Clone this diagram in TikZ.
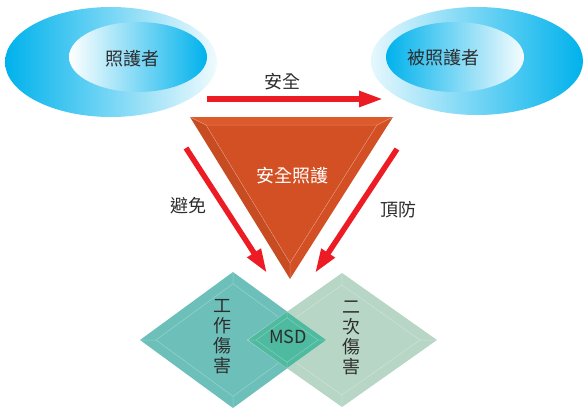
\documentclass[tikz,border=0pt]{standalone}
\usepackage{fontspec}
\newfontfamily\cjk{Noto Sans CJK TC}
\usetikzlibrary{arrows.meta,shapes.geometric}
\definecolor{himmel}{RGB}{0,178,236}
\definecolor{pfeilrot}{RGB}{237,28,36}
\definecolor{ziegel}{RGB}{210,80,36}
\definecolor{ziegelhell}{RGB}{221,90,42}
\definecolor{tuerkis}{RGB}{108,192,185}
\definecolor{salbei}{RGB}{184,214,197}
\definecolor{msdgruen}{RGB}{78,186,160}
\definecolor{schrift}{RGB}{45,45,45}
\begin{document}
\begin{tikzpicture}[x=1pt,y=-1pt,
    txt/.style={font=\cjk\fontsize{18}{20}\selectfont, text=schrift, inner sep=0pt},
    oval/.style={ellipse, inner sep=0pt},
    pfeil/.style={pfeilrot, line width=5.5pt, -{Triangle[length=24pt,width=15pt]}},
    kante/.style={white, opacity=.3, line width=.5pt}]
    \useasboundingbox (0,0) rectangle (584,410);
    % Ellipsen oben
    \node[oval, minimum width=212pt, minimum height=110pt, left color=himmel, middle color=himmel!88, right color=himmel!6] (pflegeaussen) at (111,62) {};
    \node[oval, minimum width=138pt, minimum height=70pt, left color=white, right color=himmel] (pflegeinnen) at (138,57) {};
    \node[txt] (pfleger) at (132,59) {照護者};
    \node[oval, minimum width=212pt, minimum height=108pt, left color=himmel!10, middle color=himmel!78, right color=himmel] (patientaussen) at (477,61) {};
    \node[oval, minimum width=138pt, minimum height=70pt, left color=himmel, right color=himmel!4] (patientinnen) at (455,57) {};
    \node[txt] (patient) at (443,58) {被照護者};
    % Dreieck
    \coordinate (tA) at (190,117); \coordinate (tB) at (393,117); \coordinate (tC) at (290,279);
    \coordinate (iA) at (206,125); \coordinate (iB) at (377,125); \coordinate (iC) at (290,263);
    \fill[ziegelhell] (tA)--(tB)--(iB)--(iA)--cycle;
    \fill[ziegel!95!black] (tA)--(iA)--(iC)--(tC)--cycle;
    \fill[ziegel] (tB)--(tC)--(iC)--(iB)--cycle;
    \fill[ziegel] (iA)--(iB)--(iC)--cycle;
    \draw[kante] (tA)--(iA)--(iB)--(tB) (iB)--(iC)--(tC) (iC)--(iA);
    \node[txt, text=white] (sicher) at (292,176) {安全照護};
    % Rauten
    \foreach \mx/\w/\h/\d/\farbe in {233/93/68/16/tuerkis, 342/95/67/17/salbei, 287/39/28/8/msdgruen} {
        \pgfmathsetmacro\ih{\h*(\w-\d)/\w}
        \fill[\farbe] (\mx-\w,340)--(\mx,340-\h)--(\mx+\w,340)--(\mx,340+\h)--cycle;
        \draw[kante] (\mx-\w+\d,340)--(\mx,340-\ih)--(\mx+\w-\d,340)--(\mx,340+\ih)--cycle
            (\mx-\w,340)--(\mx-\w+\d,340) (\mx+\w,340)--(\mx+\w-\d,340)
            (\mx,340-\h)--(\mx,340-\ih) (\mx,340+\h)--(\mx,340+\ih);
    }
    \node[txt, align=center] (arbeit) at (222,337) {工\\作\\傷\\害};
    \node[txt, align=center] (zweit) at (351,338) {二\\次\\傷\\害};
    \node[txt] (msd) at (288,337) {MSD};
    % Pfeile
    \coordinate (a1) at (207,99); \coordinate (a2) at (383,99);
    \draw[pfeil] (a1) -- (a2);
    \node[txt] (sicherheit) at (282,82) {安全};
    \coordinate (b1) at (186,148); \coordinate (b2) at (267,273);
    \draw[pfeil] (b1) -- (b2);
    \node[txt] (meiden) at (188,206) {避免};
    \coordinate (c1) at (397,149); \coordinate (c2) at (315,273);
    \draw[pfeil] (c1) -- (c2);
    \node[txt] (vorbeugen) at (398,210) {頂防};
\end{tikzpicture}
\end{document}
